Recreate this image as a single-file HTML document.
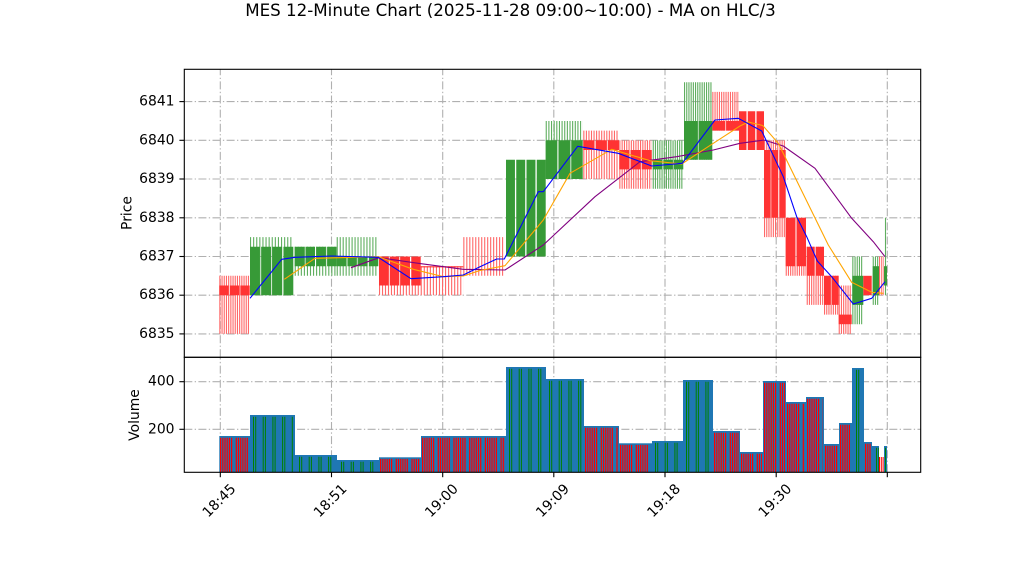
<!DOCTYPE html>
<html><head><meta charset="utf-8"><style>
html,body{margin:0;padding:0;background:#fff;}
svg{display:block;font-family:"DejaVu Sans","Liberation Sans",sans-serif;}
</style></head><body>
<svg width="1022" height="575" viewBox="0 0 1022 575" xmlns="http://www.w3.org/2000/svg">
<rect x="0" y="0" width="1022" height="575" fill="#fff"/>
<text x="510.5" y="16" font-size="16.7" text-anchor="middle" fill="#000">MES 12-Minute Chart (2025-11-28 09:00~10:00) - MA on HLC/3</text>

<!-- grid -->
<g stroke="#b0b0b0" stroke-width="1.1" stroke-dasharray="8 2.4 1.3 2.4" fill="none">
<line x1="220.3" y1="357.3" x2="220.3" y2="69.3"/>
<line x1="331.5" y1="357.3" x2="331.5" y2="69.3"/>
<line x1="442.7" y1="357.3" x2="442.7" y2="69.3"/>
<line x1="553.8" y1="357.3" x2="553.8" y2="69.3"/>
<line x1="665" y1="357.3" x2="665" y2="69.3"/>
<line x1="776.2" y1="357.3" x2="776.2" y2="69.3"/>
<line x1="887.3" y1="357.3" x2="887.3" y2="69.3"/>
<line x1="220.3" y1="472.3" x2="220.3" y2="357.3"/>
<line x1="331.5" y1="472.3" x2="331.5" y2="357.3"/>
<line x1="442.7" y1="472.3" x2="442.7" y2="357.3"/>
<line x1="553.8" y1="472.3" x2="553.8" y2="357.3"/>
<line x1="665" y1="472.3" x2="665" y2="357.3"/>
<line x1="776.2" y1="472.3" x2="776.2" y2="357.3"/>
<line x1="887.3" y1="472.3" x2="887.3" y2="357.3"/>
<line x1="184.3" y1="101.6" x2="920.7" y2="101.6"/>
<line x1="184.3" y1="140.3" x2="920.7" y2="140.3"/>
<line x1="184.3" y1="179" x2="920.7" y2="179"/>
<line x1="184.3" y1="217.8" x2="920.7" y2="217.8"/>
<line x1="184.3" y1="256.5" x2="920.7" y2="256.5"/>
<line x1="184.3" y1="295.2" x2="920.7" y2="295.2"/>
<line x1="184.3" y1="333.9" x2="920.7" y2="333.9"/>
<line x1="184.3" y1="381.7" x2="920.7" y2="381.7"/>
<line x1="184.3" y1="429.3" x2="920.7" y2="429.3"/>
</g>

<!-- wicks -->
<g fill="none">
<g stroke="#ff6868">
<line x1="219.3" x2="249.7" y1="304.85" y2="304.85" stroke-width="58.1" stroke-dasharray="1.1 1.1"/>
<line x1="379" x2="420.7" y1="275.85" y2="275.85" stroke-width="38.7" stroke-dasharray="1.1 1.88"/>
<line x1="420.7" x2="463.3" y1="280.7" y2="280.7" stroke-width="29" stroke-dasharray="1.1 1.94"/>
<line x1="463.3" x2="505" y1="256.45" y2="256.45" stroke-width="38.7" stroke-dasharray="1.1 1.88"/>
<line x1="583.3" x2="619" y1="154.8" y2="154.8" stroke-width="48.4" stroke-dasharray="1.1 1.45"/>
<line x1="619.3" x2="651.7" y1="164.5" y2="164.5" stroke-width="48.4" stroke-dasharray="1.1 1.2"/>
<line x1="712.3" x2="739" y1="111.25" y2="111.25" stroke-width="38.7" stroke-dasharray="1.1 1.1"/>
<line x1="764" x2="785.7" y1="188.7" y2="188.7" stroke-width="96.8" stroke-dasharray="1.1 1.1"/>
<line x1="785.7" x2="806" y1="246.8" y2="246.8" stroke-width="58" stroke-dasharray="1.1 1.1"/>
<line x1="806.7" x2="824" y1="275.85" y2="275.85" stroke-width="58.1" stroke-dasharray="1.1 1.1"/>
<line x1="824" x2="838.7" y1="295.2" y2="295.2" stroke-width="38.8" stroke-dasharray="1.1 1.1"/>
<line x1="838.7" x2="851.7" y1="309.7" y2="309.7" stroke-width="48.4" stroke-dasharray="1.1 1.1"/>
<line x1="879" x2="884" y1="275.85" y2="275.85" stroke-width="38.7" stroke-dasharray="1.1 1.1"/>
</g>
<g stroke="#5fae5f">
<line x1="250" x2="293.3" y1="266.15" y2="266.15" stroke-width="58.1" stroke-dasharray="1.1 2"/>
<line x1="294.7" x2="336.7" y1="261.3" y2="261.3" stroke-width="29" stroke-dasharray="1.1 1.95"/>
<line x1="336.7" x2="378.3" y1="256.45" y2="256.45" stroke-width="38.7" stroke-dasharray="1.1 1.87"/>
<line x1="545.7" x2="582.7" y1="150" y2="150" stroke-width="58" stroke-dasharray="1.1 1.54"/>
<line x1="652.7" x2="683.3" y1="164.5" y2="164.5" stroke-width="48.4" stroke-dasharray="1.1 1.1"/>
<line x1="684" x2="712.3" y1="120.95" y2="120.95" stroke-width="77.5" stroke-dasharray="1.1 1.1"/>
<line x1="852.3" x2="863.3" y1="290.35" y2="290.35" stroke-width="67.7" stroke-dasharray="1.1 1.1"/>
<line x1="872.7" x2="879" y1="280.7" y2="280.7" stroke-width="48.4" stroke-dasharray="1.1 1.1"/>
<line x1="885.5" x2="885.5" y1="217.8" y2="295.2" stroke-width="1.1"/>
</g>
</g>

<!-- bodies -->
<g fill="none">
<g stroke="#ff3333">
<line x1="219.3" x2="249.7" y1="290.35" y2="290.35" stroke-width="9.7" stroke-dasharray="9.27 1.3"/>
<line x1="379" x2="420.7" y1="271" y2="271" stroke-width="29" stroke-dasharray="9.45 1.3"/>
<line x1="420.7" x2="463.3" y1="266.8" y2="266.8" stroke-width="1.2"/>
<line x1="583.3" x2="619" y1="145.15" y2="145.15" stroke-width="9.7" stroke-dasharray="11.03 1.3"/>
<line x1="619.3" x2="651.7" y1="159.7" y2="159.7" stroke-width="19.4" stroke-dasharray="9.93 1.3"/>
<line x1="712.3" x2="739" y1="125.8" y2="125.8" stroke-width="9.6" stroke-dasharray="12.7 1.3"/>
<line x1="739" x2="764" y1="130.65" y2="130.65" stroke-width="38.7" stroke-dasharray="7.47 1.3"/>
<line x1="764" x2="785.7" y1="183.9" y2="183.9" stroke-width="67.8" stroke-dasharray="6.37 1.3"/>
<line x1="785.7" x2="806" y1="242" y2="242" stroke-width="48.4" stroke-dasharray="9.5 1.3"/>
<line x1="806.7" x2="824" y1="261.3" y2="261.3" stroke-width="29" stroke-dasharray="8 1.3"/>
<line x1="824" x2="838.7" y1="290.35" y2="290.35" stroke-width="29.1" stroke-dasharray="6.7 1.3"/>
</g>
<g stroke="#379a37">
<line x1="250" x2="293.3" y1="271" y2="271" stroke-width="48.4" stroke-dasharray="9.85 1.3"/>
<line x1="294.7" x2="336.7" y1="256.5" y2="256.5" stroke-width="19.4" stroke-dasharray="9.5 1.3"/>
<line x1="336.7" x2="378.3" y1="261.35" y2="261.35" stroke-width="9.7" stroke-dasharray="9.43 1.3"/>
<line x1="506" x2="545.7" y1="208.1" y2="208.1" stroke-width="96.8" stroke-dasharray="8.95 1.3"/>
<line x1="545.7" x2="582.7" y1="159.65" y2="159.65" stroke-width="38.7" stroke-dasharray="11.47 1.3"/>
<line x1="652.7" x2="683.3" y1="164.55" y2="164.55" stroke-width="9.7" stroke-dasharray="9.33 1.3"/>
<line x1="684" x2="712.3" y1="140.35" y2="140.35" stroke-width="38.7" stroke-dasharray="13.5 1.3"/>
</g>
<rect x="838.7" y="314.6" width="13" height="9.6" fill="#ff3333"/>
<rect x="852.3" y="275.8" width="11" height="29.1" fill="#379a37"/>
<rect x="863.3" y="275.8" width="8.4" height="19.4" fill="#ff3333"/>
<rect x="872.7" y="266.2" width="6.3" height="29" fill="#379a37"/>
<rect x="884" y="266.2" width="3" height="19.3" fill="#379a37"/>
</g>

<!-- MA lines -->
<g fill="none" stroke-width="1.1" stroke-linejoin="round">
<polyline stroke="#800080" points="351,267.7 379,257.7 418.3,263.3 463.3,269.3 505,270 543.3,245 595,196.7 640,161.7 676.7,156.7 713.3,150 740,143.3 764,140 783.3,146 815,168.3 851.7,218.3 873.3,241.7 885,256.7"/>
<polyline stroke="#ffa500" points="284.3,279.3 315,258.3 378.3,256.7 413.3,269.3 443.3,276.7 463.3,276 480,270.5 505,265.7 543.3,220 570,173.3 611.7,149.3 650,160.7 681.7,164 713.3,143.3 740,126 748.3,122 762.7,125.5 778.3,143.3 828.3,245 851.7,282.3 871.7,292.3 883.3,293.3"/>
<polyline stroke="#0000ff" points="250,298.3 281.7,259.3 295,257.3 331.7,256 378.3,257.3 411,278.7 443.3,276.7 463.3,275 480,266.7 496.7,259 504.3,259 538.3,191.7 543.3,191.7 577.7,146.3 618.3,153.3 651.7,166 682.3,163.3 715,120 738.3,118.3 761.7,131 783.3,176.7 796.7,216.7 806.7,236.7 817.3,261 831.7,276.7 853.3,304 871.7,298.3 885,281.7"/>
</g>

<!-- volume bars -->
<g fill="#1f77b4">
<rect x="219.3" y="436" width="30.7" height="36.3"/>
<rect x="250" y="415" width="45" height="57.3"/>
<rect x="295" y="455" width="42" height="17.3"/>
<rect x="337" y="460" width="42" height="12.3"/>
<rect x="379" y="457.3" width="42" height="15"/>
<rect x="421" y="436" width="85" height="36.3"/>
<rect x="506" y="367" width="40" height="105.3"/>
<rect x="546" y="379" width="38" height="93.3"/>
<rect x="584" y="426" width="35" height="46.3"/>
<rect x="619" y="443.3" width="33" height="29"/>
<rect x="652" y="441" width="31" height="31.3"/>
<rect x="683" y="380" width="30" height="92.3"/>
<rect x="713" y="431" width="27" height="41.3"/>
<rect x="740" y="452" width="23" height="20.3"/>
<rect x="763" y="381" width="23" height="91.3"/>
<rect x="786" y="402" width="20" height="70.3"/>
<rect x="806" y="397" width="18" height="75.3"/>
<rect x="824" y="444" width="15" height="28.3"/>
<rect x="839" y="423" width="13" height="49.3"/>
<rect x="852" y="368" width="12" height="104.3"/>
<rect x="864" y="442" width="8" height="30.3"/>
<rect x="872" y="446" width="7" height="26.3"/>
<rect x="884" y="446" width="3" height="26.3"/>
</g>
<g fill="none">
<g stroke="#ff0000" stroke-dasharray="1.2 1 1.2 1 1.2 1 1.2 1 1.2 1 1.2 3.5">
<line x1="220" x2="249" y1="455" y2="455" stroke-width="34.6"/>
<line x1="380" x2="420" y1="465.6" y2="465.6" stroke-width="13.4"/>
<line x1="422" x2="505" y1="455" y2="455" stroke-width="34.6"/>
<line x1="585" x2="618" y1="450" y2="450" stroke-width="44.6"/>
<line x1="620" x2="651" y1="458.6" y2="458.6" stroke-width="27.4"/>
<line x1="714" x2="739" y1="452.5" y2="452.5" stroke-width="39.6"/>
<line x1="741" x2="762" y1="463" y2="463" stroke-width="18.6"/>
<line x1="764" x2="785" y1="427.5" y2="427.5" stroke-width="89.6"/>
<line x1="787" x2="805" y1="438" y2="438" stroke-width="68.6"/>
<line x1="807" x2="823" y1="435.5" y2="435.5" stroke-width="73.6"/>
<line x1="825" x2="838" y1="459" y2="459" stroke-width="26.6"/>
<line x1="840" x2="851" y1="448.5" y2="448.5" stroke-width="47.6"/>
<line x1="865" x2="871" y1="458" y2="458" stroke-width="28.6"/>
<line x1="879" x2="884" y1="464.65" y2="464.65" stroke-width="15.3" stroke-dasharray="1.2 1"/>
</g>
<g stroke="#008000" stroke-dasharray="1 1.2 1 6.5">
<line x1="253" x2="294" y1="444.5" y2="444.5" stroke-width="55.6"/>
<line x1="299" x2="336" y1="464.5" y2="464.5" stroke-width="15.6"/>
<line x1="341" x2="378" y1="467" y2="467" stroke-width="10.6"/>
<line x1="509" x2="545" y1="420.5" y2="420.5" stroke-width="103.6"/>
<line x1="549" x2="583" y1="426.5" y2="426.5" stroke-width="91.6"/>
<line x1="655" x2="682" y1="457.5" y2="457.5" stroke-width="29.6"/>
<line x1="686" x2="712" y1="427" y2="427" stroke-width="90.6"/>
<line x1="856" x2="863" y1="421" y2="421" stroke-width="102.6"/>
<line x1="876" x2="879" y1="460" y2="460" stroke-width="24.6"/>
<line x1="885" x2="887" y1="460" y2="460" stroke-width="24.6"/>
</g>
</g>

<!-- axes frames -->
<g fill="none" stroke="#000" stroke-width="1.1">
<rect x="184.3" y="69.3" width="736.4" height="288"/>
<rect x="184.3" y="357.3" width="736.4" height="115"/>
</g>
<!-- ticks -->
<g stroke="#000" stroke-width="1.1">
<line x1="179.4" x2="184.3" y1="101.6" y2="101.6"/>
<line x1="179.4" x2="184.3" y1="140.3" y2="140.3"/>
<line x1="179.4" x2="184.3" y1="179" y2="179"/>
<line x1="179.4" x2="184.3" y1="217.8" y2="217.8"/>
<line x1="179.4" x2="184.3" y1="256.5" y2="256.5"/>
<line x1="179.4" x2="184.3" y1="295.2" y2="295.2"/>
<line x1="179.4" x2="184.3" y1="333.9" y2="333.9"/>
<line x1="179.4" x2="184.3" y1="381.7" y2="381.7"/>
<line x1="179.4" x2="184.3" y1="429.3" y2="429.3"/>
<line x1="220.3" x2="220.3" y1="472.3" y2="477.2"/>
<line x1="331.5" x2="331.5" y1="472.3" y2="477.2"/>
<line x1="442.7" x2="442.7" y1="472.3" y2="477.2"/>
<line x1="553.8" x2="553.8" y1="472.3" y2="477.2"/>
<line x1="665" x2="665" y1="472.3" y2="477.2"/>
<line x1="776.2" x2="776.2" y1="472.3" y2="477.2"/>
<line x1="887.3" x2="887.3" y1="472.3" y2="477.2"/>
</g>
<g font-size="13.9" fill="#000" text-anchor="end" dominant-baseline="central">
<text x="174.5" y="101.6">6841</text>
<text x="174.5" y="140.3">6840</text>
<text x="174.5" y="179">6839</text>
<text x="174.5" y="217.8">6838</text>
<text x="174.5" y="256.5">6837</text>
<text x="174.5" y="295.2">6836</text>
<text x="174.5" y="333.9">6835</text>
<text x="174.5" y="381.7">400</text>
<text x="174.5" y="429.3">200</text>
</g>
<g font-size="13.9" fill="#000" text-anchor="middle" dominant-baseline="central">
<text transform="translate(127.5,213) rotate(-90)">Price</text>
<text transform="translate(135,415) rotate(-90)">Volume</text>
<text transform="translate(219.5,501) rotate(-45)">18:45</text>
<text transform="translate(330.7,501) rotate(-45)">18:51</text>
<text transform="translate(441.9,501) rotate(-45)">19:00</text>
<text transform="translate(553,501) rotate(-45)">19:09</text>
<text transform="translate(664.2,501) rotate(-45)">19:18</text>
<text transform="translate(775.4,501) rotate(-45)">19:30</text>
</g>
</svg>
</body></html>
